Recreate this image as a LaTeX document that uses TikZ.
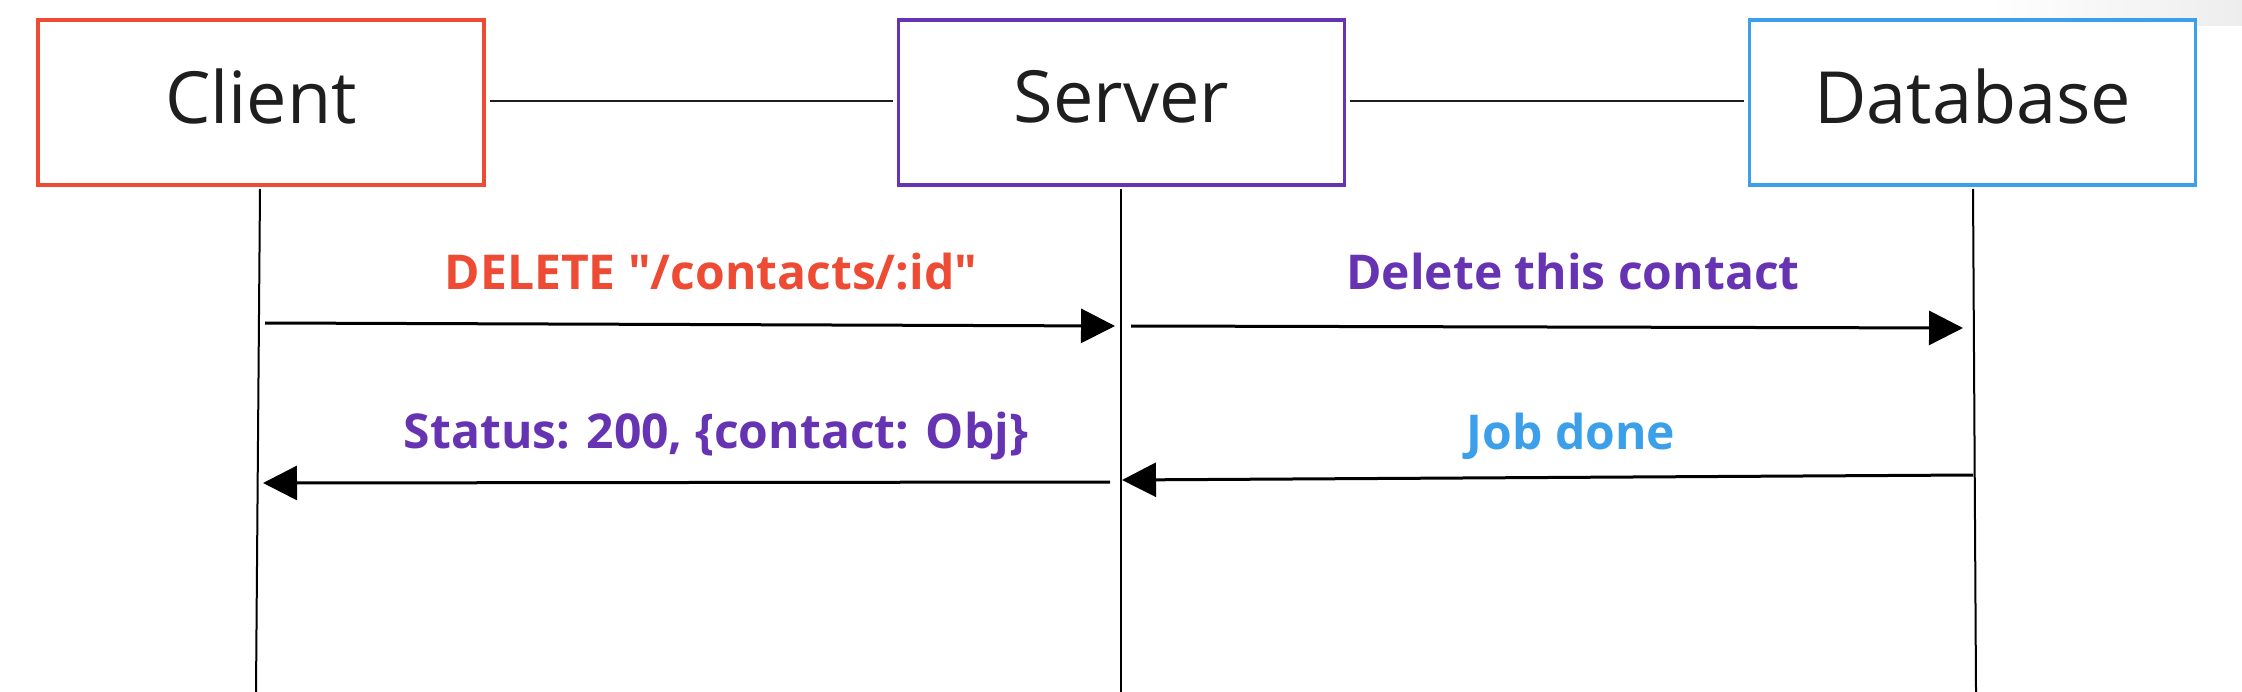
\documentclass[tikz,border=0pt]{standalone}
\usepackage{fontspec}
\setmainfont{Open Sans}[Ligatures=TeXOff]
\usetikzlibrary{arrows.meta}
\definecolor{cred}{HTML}{EE4B34}
\definecolor{cpurple}{HTML}{6633B2}
\definecolor{cblue}{HTML}{3C9FEA}
\definecolor{ctext}{HTML}{1E1E1E}
\begin{document}
\begin{tikzpicture}[x=1pt,y=-1pt,
  actor/.style={draw, line width=3.5pt, minimum width=446pt, minimum height=165pt, inner sep=0pt,
    font=\fontsize{72}{84}\selectfont, text=ctext, text depth=12pt, fill=white},
  link/.style={draw=ctext, line width=2pt},
  lifeline/.style={draw=black, line width=2pt},
  msg/.style={draw=black, line width=3pt, -{Triangle[length=34pt,width=34pt]}},
  msglabel/.style={font=\fontsize{48}{56}\selectfont\bfseries, inner sep=0pt}
]
\useasboundingbox (0,0) rectangle (2242,692);
\fill[white] (0,0) rectangle (2242,692);
\shade[left color=white, right color=black!7] (1990,0) rectangle (2242,26);

\node[actor, draw=cred]    (client) at (261,102.5)  {Client};
\node[actor, draw=cpurple] (server) at (1121.5,102.5) {Server};
\node[actor, draw=cblue]   (db)     at (1972.5,102.5) {Database};

\draw[link] (client.east) ++(4,-1) coordinate (l1a) (server.west) ++(-4,-1) coordinate (l1b);
\draw[link] (l1a) -- (l1b);
\draw[link] (server.east) ++(4,-1) coordinate (l2a) (db.west) ++(-4,-1) coordinate (l2b);
\draw[link] (l2a) -- (l2b);

% lifelines
\coordinate (c1) at (260,189);
\coordinate (c2) at (256,692);
\coordinate (s1) at (1121,189);
\coordinate (s2) at (1121,692);
\coordinate (d1) at (1973,189);
\coordinate (d2) at (1976,692);
\draw[lifeline] (c1) -- (c2);
\draw[lifeline] (s1) -- (s2);
\draw[lifeline] (d1) -- (d2);

% messages
\coordinate (m1a) at (265,323);
\coordinate (m1b) at (1115,326);
\coordinate (m2a) at (1131,326);
\coordinate (m2b) at (1963,328);
\coordinate (m3a) at (1110,482);
\coordinate (m3b) at (263,483);
\coordinate (m4a) at (1973,475);
\coordinate (m4b) at (1122,480);
\draw[msg] (m1a) -- (m1b);
\draw[msg] (m2a) -- (m2b);
\draw[msg] (m3a) -- (m3b);
\draw[msg] (m4a) -- (m4b);

\node[msglabel, text=cred]    (t1) at (711,272) {DELETE "/contacts/:id"};
\node[msglabel, text=cpurple] (t2) at (1573,272) {Delete this contact};
\node[msglabel, text=cpurple] (t3) at (716,436) {Status: 200, \{contact: Obj\}};
\node[msglabel, text=cblue]   (t4) at (1571,436) {Job done};
\end{tikzpicture}
\end{document}
